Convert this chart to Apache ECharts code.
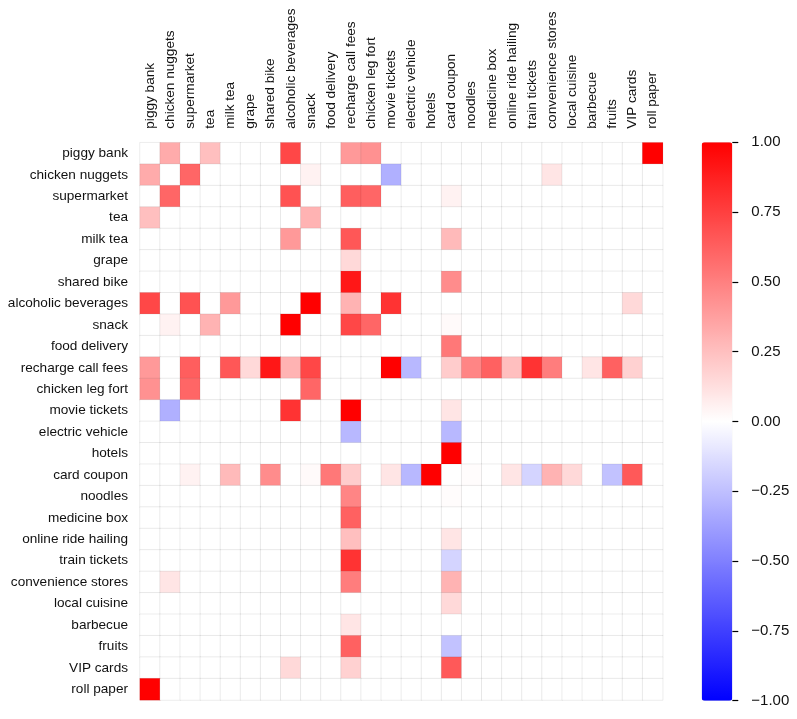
<!DOCTYPE html>
<html>
<head>
<meta charset="utf-8">
<script src="https://cdn.jsdelivr.net/npm/echarts@6/dist/echarts.min.js"></script>
<style>
html,body{margin:0;padding:0;background:#fff;}
#chart{width:797px;height:719px;}
</style>
</head>
<body>
<div id="chart"></div>
<script>
var categories = ['piggy bank','chicken nuggets','supermarket','tea','milk tea','grape','shared bike','alcoholic beverages','snack','food delivery','recharge call fees','chicken leg fort','movie tickets','electric vehicle','hotels','card coupon','noodles','medicine box','online ride hailing','train tickets','convenience stores','local cuisine','barbecue','fruits','VIP cards','roll paper'];

// non-zero correlations (symmetric matrix, upper triangle)
var pairs = [
  ['piggy bank','chicken nuggets',0.33],
  ['piggy bank','tea',0.25],
  ['piggy bank','alcoholic beverages',0.72],
  ['piggy bank','recharge call fees',0.40],
  ['piggy bank','chicken leg fort',0.43],
  ['piggy bank','roll paper',1.00],
  ['chicken nuggets','supermarket',0.60],
  ['chicken nuggets','snack',0.05],
  ['chicken nuggets','movie tickets',-0.31],
  ['chicken nuggets','convenience stores',0.10],
  ['supermarket','alcoholic beverages',0.68],
  ['supermarket','recharge call fees',0.63],
  ['supermarket','chicken leg fort',0.60],
  ['supermarket','card coupon',0.05],
  ['tea','snack',0.30],
  ['milk tea','alcoholic beverages',0.40],
  ['milk tea','recharge call fees',0.66],
  ['milk tea','card coupon',0.27],
  ['grape','recharge call fees',0.15],
  ['shared bike','recharge call fees',0.91],
  ['shared bike','card coupon',0.45],
  ['alcoholic beverages','snack',1.00],
  ['alcoholic beverages','recharge call fees',0.30],
  ['alcoholic beverages','movie tickets',0.80],
  ['alcoholic beverages','VIP cards',0.15],
  ['snack','recharge call fees',0.72],
  ['snack','chicken leg fort',0.60],
  ['snack','card coupon',0.02],
  ['food delivery','card coupon',0.53],
  ['recharge call fees','movie tickets',1.00],
  ['recharge call fees','electric vehicle',-0.28],
  ['recharge call fees','card coupon',0.20],
  ['recharge call fees','noodles',0.48],
  ['recharge call fees','medicine box',0.62],
  ['recharge call fees','online ride hailing',0.25],
  ['recharge call fees','train tickets',0.80],
  ['recharge call fees','convenience stores',0.51],
  ['recharge call fees','barbecue',0.10],
  ['recharge call fees','fruits',0.62],
  ['recharge call fees','VIP cards',0.18],
  ['movie tickets','card coupon',0.10],
  ['electric vehicle','card coupon',-0.28],
  ['hotels','card coupon',1.00],
  ['card coupon','noodles',0.01],
  ['card coupon','online ride hailing',0.10],
  ['card coupon','train tickets',-0.17],
  ['card coupon','convenience stores',0.30],
  ['card coupon','local cuisine',0.15],
  ['card coupon','fruits',-0.24],
  ['card coupon','VIP cards',0.65]
];

var colorTicks = [-1, -0.75, -0.5, -0.25, 0, 0.25, 0.5, 0.75, 1];

var n = categories.length;
var matrix = [];
for (var i = 0; i < n; i++) { matrix.push(new Array(n).fill(0)); }
pairs.forEach(function (p) {
  var a = categories.indexOf(p[0]), b = categories.indexOf(p[1]);
  matrix[a][b] = p[2];
  matrix[b][a] = p[2];
});
var data = [];
for (var r = 0; r < n; r++) {
  for (var c = 0; c < n; c++) {
    data.push([c, r, matrix[r][c]]);
  }
}

var FONT = 'Liberation Sans';
var gridL = 140, gridT = 142.7, gridW = 522.7, gridH = 557.3;
var cbL = 701.7, cbT = 142.3, cbW = 30.6, cbH = 558.4;

var chart = echarts.init(document.getElementById('chart'), null, {renderer: 'canvas'});
chart.setOption({
  backgroundColor: '#ffffff',
  animation: false,
  textStyle: {fontFamily: FONT},
  grid: [
    {left: gridL, top: gridT, width: gridW, height: gridH, containLabel: false},
    {left: cbL, top: cbT, width: cbW, height: cbH, containLabel: false}
  ],
  xAxis: [
    {
      type: 'category', data: categories, position: 'top', gridIndex: 0,
      axisLine: {show: false}, axisTick: {show: false}, splitLine: {show: false},
      axisLabel: {rotate: -90, interval: 0, margin: 14, fontSize: 13.6, color: '#111', fontFamily: FONT}
    },
    {
      type: 'category', gridIndex: 1, data: ['bar'], show: false
    }
  ],
  yAxis: [
    {
      type: 'category', data: categories, inverse: true, gridIndex: 0,
      axisLine: {show: false}, axisTick: {show: false}, splitLine: {show: false},
      axisLabel: {interval: 0, margin: 12, fontSize: 13.6, color: '#111', fontFamily: FONT}
    },
    {
      type: 'value', gridIndex: 1, position: 'right', min: -1, max: 1, interval: 0.25,
      axisLine: {show: true, onZero: false, lineStyle: {color: '#000', opacity: 0}},
      axisTick: {show: true, inside: false, length: 6, lineStyle: {color: '#000', width: 1.2, opacity: 1}},
      splitLine: {show: false},
      axisLabel: {
        margin: 19, fontSize: 15, color: '#111', fontFamily: FONT,
        formatter: function (v) {
          var s = Math.abs(v).toFixed(2);
          return (v < 0 ? '\u2212' : '') + s;
        }
      }
    }
  ],
  visualMap: {
    type: 'continuous', min: -1, max: 1, seriesIndex: 0, dimension: 2,
    show: true, calculable: false, orient: 'vertical',
    left: cbL, top: cbT, itemWidth: cbW, itemHeight: cbH,
    text: null, showLabel: false, padding: 0,
    inRange: {color: ['#0000ff', '#ffffff', '#ff0000']}
  },
  series: [
    {
      type: 'heatmap', xAxisIndex: 0, yAxisIndex: 0, data: data,
      itemStyle: {borderColor: 'rgba(0,0,0,0.075)', borderWidth: 1},
      emphasis: {disabled: true},
      progressive: 0
    },
    {
      type: 'line', xAxisIndex: 1, yAxisIndex: 1, data: [], silent: true
    }
  ]
});
</script>
</body>
</html>
